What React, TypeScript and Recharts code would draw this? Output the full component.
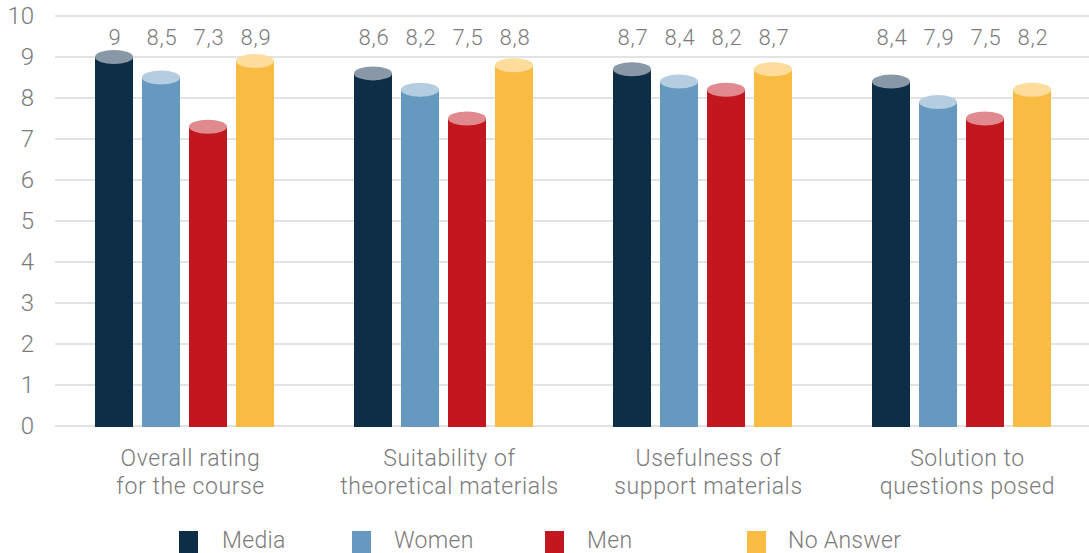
import React from "react";
import { BarChart, Bar, XAxis, YAxis, CartesianGrid, Legend, LabelList } from "recharts";

// Course evaluation scores (0–10) by respondent group
const categories = [
  "Overall rating\nfor the course",
  "Suitability of\ntheoretical materials",
  "Usefulness of\nsupport materials",
  "Solution to\nquestions posed",
];
const media = [9, 8.6, 8.7, 8.4];
const women = [8.5, 8.2, 8.4, 7.9];
const men = [7.3, 7.5, 8.2, 7.5];
const noAnswer = [8.9, 8.8, 8.7, 8.2];
const yTicks = [0, 1, 2, 3, 4, 5, 6, 7, 8, 9, 10];

const seriesInfo = [
  { key: "media", name: "Media", color: "#0e2e48", top: "#8898a6" },
  { key: "women", name: "Women", color: "#6699bf", top: "#b4cde0" },
  { key: "men", name: "Men", color: "#c31720", top: "#e08a90" },
  { key: "noAnswer", name: "No Answer", color: "#f9bc42", top: "#fddc9c" },
];

const data = categories.map((name, i) => ({
  name,
  media: media[i],
  women: women[i],
  men: men[i],
  noAnswer: noAnswer[i],
}));

const FONT = "Roboto, 'DejaVu Sans', sans-serif";
const WEIGHT = 300;
const TEXT = "#7b7b7b";
const W = 1089;
const H = 553;
const TOP = 16;

const fmt = (v: number) => String(v).replace(".", ",");

const Cylinder = (props: any) => {
  const { x, y, width, height, fill, topFill } = props;
  if (width == null || height == null) return null;
  const cx = x + width / 2;
  return (
    <g>
      <rect x={x} y={y} width={width} height={height + 1} fill={fill} />
      <ellipse cx={cx} cy={y} rx={width / 2} ry={7} fill={topFill} />
    </g>
  );
};

const ValueLabel = (props: any) => {
  const { x, width, value } = props;
  return (
    <text
      x={x + width / 2 + 1}
      y={TOP + 29}
      textAnchor="middle"
      fontFamily={FONT}
      fontWeight={WEIGHT}
      fontSize={22}
      fill={TEXT}
      letterSpacing={0.8}
    >
      {fmt(value)}
    </text>
  );
};

const YTick = (props: any) => {
  const { x, y, payload } = props;
  return (
    <text
      x={x - 21}
      y={y}
      textAnchor="end"
      dominantBaseline="central"
      fontFamily={FONT}
      fontWeight={WEIGHT}
      fontSize={24}
      fill={TEXT}
    >
      {payload.value}
    </text>
  );
};

const XTick = (props: any) => {
  const { x, y, payload } = props;
  const lines = String(payload.value).split("\n");
  return (
    <text
      textAnchor="middle"
      fontFamily={FONT}
      fontWeight={WEIGHT}
      fontSize={23}
      fill={TEXT}
      letterSpacing={0.6}
    >
      {lines.map((l, i) => (
        <tspan key={i} x={x + 6} y={y + 40 + i * 27.5}>
          {l}
        </tspan>
      ))}
    </text>
  );
};

const legendSquares = [179, 352, 545, 747];
const legendText = [222, 394, 587, 788];

const LegendContent = () => (
  <svg width={W} height={30} style={{ display: "block", overflow: "visible" }}>
    {seriesInfo.map((s, i) => (
      <g key={s.key}>
        <rect x={legendSquares[i]} y={8} width={19} height={24} fill={s.color} />
        <text
          x={legendText[i]}
          y={25}
          fontFamily={FONT}
          fontWeight={WEIGHT}
          fontSize={23}
          fill={TEXT}
          letterSpacing={0.3}
        >
          {s.name}
        </text>
      </g>
    ))}
  </svg>
);

export default function App() {
  return (
    <div style={{ position: "absolute", left: 0, top: 0, width: W, height: H, background: "#fff", overflow: "hidden" }}>
      <BarChart
        width={W}
        height={H}
        data={data}
        margin={{ top: TOP, right: -2, left: 0, bottom: 0 }}
        barGap={9}
      >
        <CartesianGrid vertical={false} stroke="#dadada" strokeWidth={1.6} />
        <XAxis
          dataKey="name"
          axisLine={false}
          tickLine={false}
          tickSize={0}
          tickMargin={0}
          height={97}
          interval={0}
          tick={<XTick />}
        />
        <YAxis
          domain={[0, 10]}
          ticks={yTicks}
          axisLine={false}
          tickLine={false}
          tickSize={0}
          tickMargin={0}
          width={55}
          tick={<YTick />}
        />
        <Legend
          verticalAlign="bottom"
          content={<LegendContent />}
          wrapperStyle={{ left: 0, width: W, height: 30, bottom: 0 }}
        />
        {seriesInfo.map((s) => (
          <Bar
            key={s.key}
            dataKey={s.key}
            name={s.name}
            fill={s.color}
            barSize={38}
            isAnimationActive={false}
            shape={(p: any) => <Cylinder {...p} topFill={s.top} />}
          >
            <LabelList dataKey={s.key} content={<ValueLabel />} />
          </Bar>
        ))}
      </BarChart>
    </div>
  );
}
